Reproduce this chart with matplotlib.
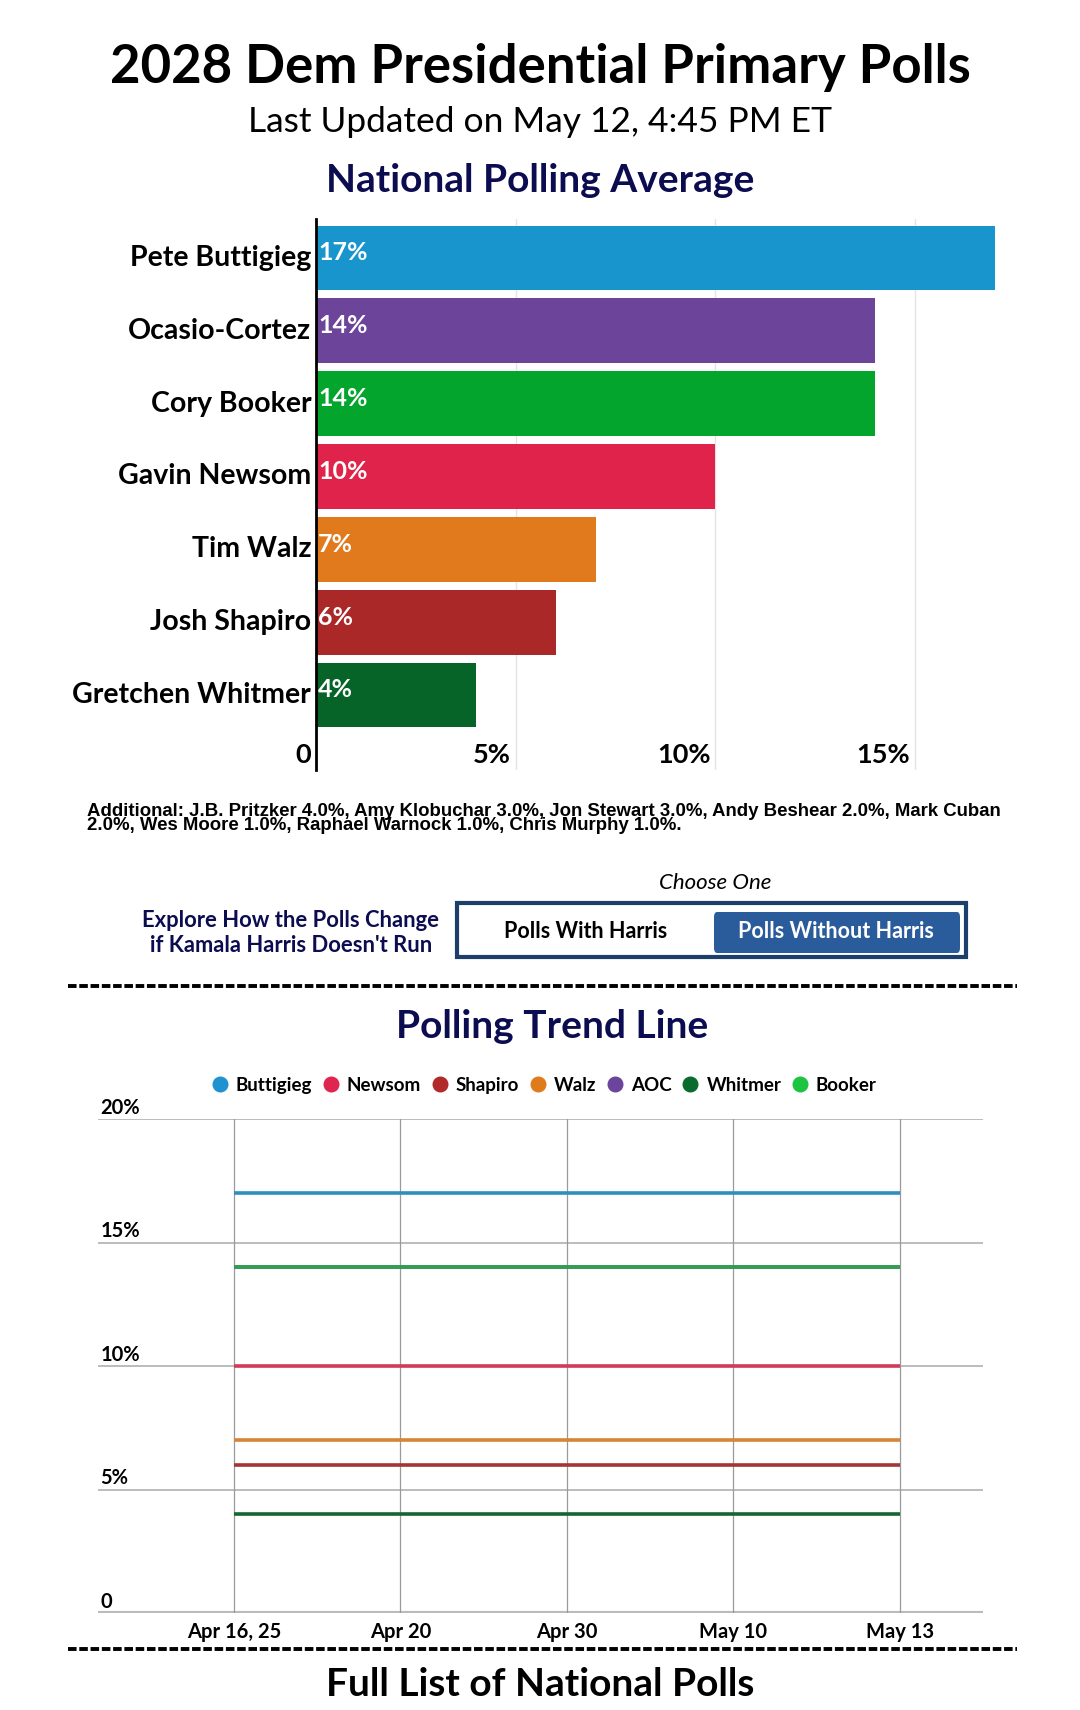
import numpy as np
import matplotlib.pyplot as plt
from matplotlib.lines import Line2D
from matplotlib.patches import Rectangle, FancyBboxPatch

# bar chart data (national polling average)
candidates = ["Pete Buttigieg", "Ocasio-Cortez", "Cory Booker", "Gavin Newsom",
              "Tim Walz", "Josh Shapiro", "Gretchen Whitmer"]
averages = [17, 14, 14, 10, 7, 6, 4]
bar_colors = ["#1895cd", "#6c4499", "#03a52c", "#e0234a", "#e07a1c", "#ab2828", "#076429"]
bar_ticks = [0, 5, 10, 15]
bar_tick_labels = ["0", "5%", "10%", "15%"]

additional = ["Additional: J.B. Pritzker 4.0%, Amy Klobuchar 3.0%, Jon Stewart 3.0%, Andy Beshear 2.0%, Mark Cuban",
              "2.0%, Wes Moore 1.0%, Raphael Warnock 1.0%, Chris Murphy 1.0%."]

# trend line data
dates = ["Apr 16, 25", "Apr 20", "Apr 30", "May 10", "May 13"]
trend_names = ["Buttigieg", "Newsom", "Shapiro", "Walz", "AOC", "Whitmer", "Booker"]
buttigieg = [17, 17, 17, 17, 17]
newsom = [10, 10, 10, 10, 10]
shapiro = [6, 6, 6, 6, 6]
walz = [7, 7, 7, 7, 7]
aoc = [14, 14, 14, 14, 14]
whitmer = [4, 4, 4, 4, 4]
booker = [14, 14, 14, 14, 14]
trend_values = [buttigieg, newsom, shapiro, walz, aoc, whitmer, booker]
line_colors = ["#2e8fbe", "#d23a5a", "#a33535", "#d8823a", "#6c4499", "#146630", "#2fa04f"]
legend_colors = ["#1f92cf", "#e0254f", "#b02a2a", "#e07b1c", "#6b449c", "#0a6b2e", "#1dc43f"]
y_ticks = [0, 5, 10, 15, 20]
y_tick_labels = ["0", "5%", "10%", "15%", "20%"]

W, H = 1080, 1710
NAVY = "#0c0c50"
BOLD = ["Lato", "DejaVu Sans"]

fig = plt.figure(figsize=(W / 100, H / 100), dpi=100)


def fx(x):
    return x / W


def fy(y):
    return 1 - y / H


def dash_line(y):
    fig.add_artist(Line2D([fx(68), fx(1017)], [fy(y), fy(y)], color="black",
                          lw=2.8, linestyle=(0, (2.2, 0.7))))


# headers
fig.text(0.5, fy(67), "2028 Dem Presidential Primary Polls", ha="center", va="center",
         fontsize=38, fontweight="bold", family=BOLD)
fig.text(0.5, fy(122), "Last Updated on May 12, 4:45 PM ET", ha="center", va="center",
         fontsize=25.5, family=BOLD)
fig.text(0.5, fy(180), "National Polling Average", ha="center", va="center",
         fontsize=28, fontweight="bold", family=BOLD, color=NAVY)

# ---- bar chart
ax = fig.add_axes([fx(316), fy(770), fx(999) - fx(316), (770 - 219) / H])
ypos = np.arange(len(candidates))
ax.barh(ypos, averages, height=0.89, color=bar_colors)
ax.set_xlim(0, 17.1)
ax.set_ylim(6 + 1.03, -0.535)
for t in bar_ticks[1:]:
    ax.axvline(t, color="#e4e4e4", lw=1, zorder=0)
for s in ["top", "right", "bottom"]:
    ax.spines[s].set_visible(False)
ax.spines["left"].set_linewidth(2)
ax.set_xticks([])
ax.set_yticks([])
for i, (name, v) in enumerate(zip(candidates, averages)):
    ax.text(-0.12, i, name, ha="right", va="center", fontsize=20.5, fontweight="bold",
            family=BOLD, clip_on=False)
    ax.text(0.05, i - 0.07, f"{v}%", ha="left", va="center", fontsize=18,
            fontweight="bold", family=BOLD, color="white")
for t, lab in zip(bar_ticks, bar_tick_labels):
    ax.text(t - 0.12, 6.82, lab, ha="right", va="center", fontsize=19.5,
            fontweight="bold", family=BOLD, clip_on=False)

for k, line in enumerate(additional):
    fig.text(fx(87), fy(811 + 14 * k), line, ha="left", va="center", fontsize=13.4,
             fontweight="bold", family=["Liberation Sans", "DejaVu Sans"])

# ---- toggle
fig.text(fx(715), fy(883), "Choose One", ha="center", va="center", fontsize=16,
         style="italic", family=BOLD)
fig.text(fx(291), fy(920), "Explore How the Polls Change", ha="center", va="center",
         fontsize=15.8, fontweight="bold", family=BOLD, color=NAVY)
fig.text(fx(291), fy(945), "if Kamala Harris Doesn't Run", ha="center", va="center",
         fontsize=15.8, fontweight="bold", family=BOLD, color=NAVY)
fig.add_artist(Rectangle((fx(457), fy(957)), fx(966) - fx(457), (957 - 903) / H,
                         facecolor="white", edgecolor="#1b3e6b", lw=3))
fig.add_artist(FancyBboxPatch((fx(714), fy(953)), fx(960) - fx(714), (953 - 912) / H,
                              boxstyle="round,pad=0,rounding_size=0.003",
                              facecolor="#2a5b9b", edgecolor="none"))
fig.text(fx(586), fy(931), "Polls With Harris", ha="center", va="center", fontsize=15.5,
         fontweight="bold", family=BOLD)
fig.text(fx(836), fy(931), "Polls Without Harris", ha="center", va="center", fontsize=15.5,
         fontweight="bold", family=BOLD, color="white")

dash_line(986)

# ---- trend line chart
fig.text(fx(552), fy(1026), "Polling Trend Line", ha="center", va="center",
         fontsize=28, fontweight="bold", family=BOLD, color=NAVY)

ax2 = fig.add_axes([fx(98), fy(1613), fx(983) - fx(98), (1613 - 1119) / H])
x = np.arange(len(dates))
for vals, c in zip(trend_values, line_colors):
    ax2.plot(x, vals, color=c, lw=2.6, solid_capstyle="butt")
ax2.set_xlim(-0.816, 4.5)
ax2.set_ylim(0, 20)
for t in y_ticks[1:]:
    ax2.axhline(t, color="#aaaaaa", lw=1.1, zorder=0)
ax2.axhline(0, color="#bbbbbb", lw=3, zorder=0)
for xi in x:
    ax2.axvline(xi, color="#9a9a9a", lw=0.9, zorder=0)
for s in ax2.spines.values():
    s.set_visible(False)
ax2.set_xticks([])
ax2.set_yticks([])
for t, lab in zip(y_ticks, y_tick_labels):
    ax2.text(-0.8, t + 0.45, lab, ha="left", va="center", fontsize=14.5,
             fontweight="bold", family=BOLD, clip_on=False)
for xi, lab in zip(x, dates):
    ax2.text(xi, -0.75, lab, ha="center", va="center", fontsize=14.5,
             fontweight="bold", family=BOLD, clip_on=False)

handles = [Line2D([], [], marker="o", linestyle="none", markersize=10.5,
                  markerfacecolor=c, markeredgecolor=c) for c in legend_colors]
fig.legend(handles, trend_names, loc="center", bbox_to_anchor=(fx(544), fy(1085)),
           ncol=7, frameon=False, columnspacing=0.55, handletextpad=0.4,
           handlelength=0.9, prop={"family": BOLD, "weight": "bold", "size": 13.5})

dash_line(1649)
fig.text(0.5, fy(1684), "Full List of National Polls", ha="center", va="center",
         fontsize=28, fontweight="bold", family=BOLD)

fig.savefig("out.png", dpi=100)
